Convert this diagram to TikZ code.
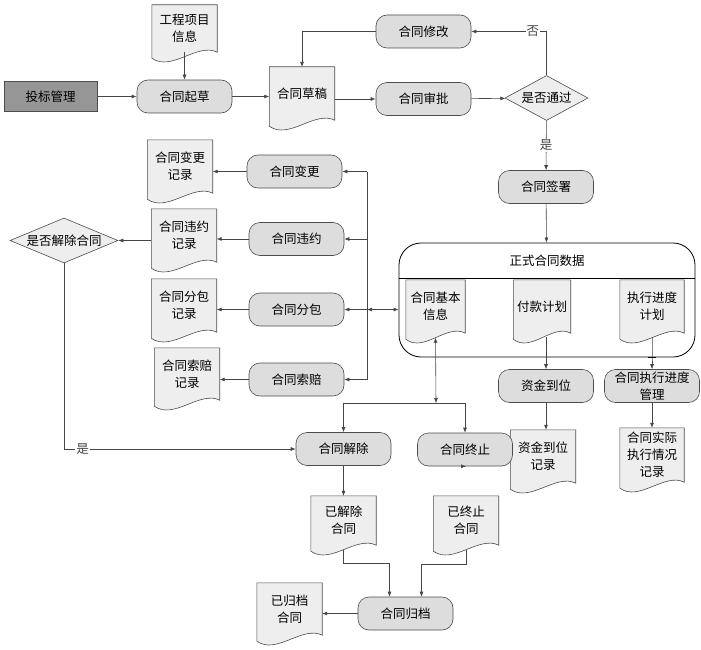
\documentclass[tikz,border=0pt]{standalone}
\usepackage{fontspec}
\setmainfont{Noto Sans CJK SC}
\usetikzlibrary{shapes.geometric,arrows.meta,positioning,backgrounds,calc}
\definecolor{procgray}{RGB}{221,221,221}
\definecolor{docgray} {RGB}{238,238,238}
\definecolor{bidgray} {RGB}{150,150,150}
\definecolor{linegray}{RGB}{70,70,70}

\begin{document}
\begin{tikzpicture}[
      x=1pt, y=-1pt,
      font=\fontsize{12.5}{17}\selectfont, >={Latex[length=5pt,width=4pt]},
      every node/.style={align=center},
      proc/.style={rectangle, rounded corners=11pt, draw=black!70, fill=procgray,
        minimum width=95pt, minimum height=33pt, line width=0.6pt},
      docu/.style={rectangle, inner sep=0pt, minimum width=65pt, minimum height=#1},
      docu/.default=53pt,
      decide/.style={diamond, draw=black!70, fill=docgray, inner sep=0pt, aspect=2.4,
        line width=0.6pt},
      arr/.style={->, color=linegray, line width=0.6pt},
      lbl/.style={fill=white, inner sep=1pt},
    ]
    \useasboundingbox (0,0) rectangle (701,650);

    % ── DRAFTING & APPROVAL ─────────────────────────────────────
    \node[draw=black!70, fill=bidgray, minimum width=93pt, minimum height=30pt] (bid) at (50.5, 96.5) {投标管理};
    \node[docu=47pt] (info) at (184.5, 28.5) {工程项目\\信息};
    \node[proc] (drafting) at (184.5, 96.5) {合同起草};
    \node[docu] (draftdoc) at (302, 93.5) {合同草稿};
    \node[proc] (revise) at (423.5, 31.5) {合同修改};
    \node[proc] (approve) at (423.5, 99) {合同审批};
    \node[decide, minimum width=83pt, minimum height=45pt] (pass) at (546.5, 98) {是否通过};
    \node[proc] (sign) at (546, 187) {合同签署};

    \draw[arr, thick] (bid) -- (drafting);
    \draw[arr] (info) -- (drafting);
    \draw[arr, thick] (drafting.east) -- (drafting.east -| draftdoc.west);
    \draw[arr, thick] (draftdoc.east |- approve) -- (approve);
    \draw[arr] (approve) -- (pass);
    \draw[arr] (pass.north) |- node[pos=0.59, lbl]{否} (revise.east);
    \draw[arr] (revise.west) -| (draftdoc.north);
    \draw[arr] (pass) -- node[lbl]{是} (sign);

    % ── CONTRACT DATA ───────────────────────────────────────────
    \node[draw=black, rounded corners=22pt, minimum width=296pt, minimum height=114pt,
      line width=0.8pt] (data) at (547, 300) {};
    \node[minimum width=296pt, minimum height=35pt, anchor=north] (title) at (data.north) {正式合同数据};
    \draw[line width=0.6pt] (data.west |- title.south) -- (data.east |- title.south);
    \node[docu, minimum width=59pt] (basic) at (435.5, 306.5) {合同基本\\信息};
    \node[docu, minimum width=57pt] (pay) at (542, 306.5) {付款计划};
    \node[docu, minimum width=64pt] (sched) at (652, 306.5) {执行进度\\计划};

    \draw[arr] (sign) -- (data);

    % ── CHANGES, BREACH, SUBCONTRACT, CLAIMS ────────────────────
    \node[proc] (change) at (294.5, 171.5) {合同变更};
    \node[proc] (breach) at (296.5, 239) {合同违约};
    \node[proc] (subc) at (296.5, 309.5) {合同分包};
    \node[proc] (claim) at (296.5, 379.5) {合同索赔};
    \node[docu] (changerec) at (180, 166.5) {合同变更\\记录};
    \node[docu] (breachrec) at (184, 235.5) {合同违约\\记录};
    \node[docu] (subcrec) at (184, 305.5) {合同分包\\记录};
    \node[docu=52pt] (claimrec) at (187, 374) {合同索赔\\记录};
    \node[decide, minimum width=108pt, minimum height=45pt] (askend) at (64, 240.5) {是否解除合同};

    \coordinate (bus) at (367, 309.5);
    \draw[color=linegray, line width=0.6pt] (change.east -| bus) -- (claim.east -| bus);
    \foreach \proc in {change,breach,claim}
      \draw[arr] (\proc.east -| bus) -- (\proc.east);
    \draw[arr] (bus) -- (subc.east);
    \draw[arr, <->] (bus) -- (bus -| data.west);
    \foreach \proc/\rec in {change/changerec, breach/breachrec, subc/subcrec, claim/claimrec}
      \draw[arr] (\proc.west) -- (\proc.west -| \rec.east);
    \draw[arr] (askend.east -| breachrec.west) -- (askend.east);

    % ── RESCISSION, TERMINATION, ARCHIVE ────────────────────────
    \node[proc] (rescind) at (343.5, 449) {合同解除};
    \node[proc] (terminate) at (465, 449.5) {合同终止};
    \node[docu=49pt] (rescinded) at (343.5, 520.5) {已解除\\合同};
    \node[docu=49pt] (terminated) at (466, 520.5) {已终止\\合同};
    \node[proc] (archive) at (405.5, 613.5) {合同归档};
    \node[docu=52pt] (archived) at (289.5, 609) {已归档\\合同};

    \coordinate (fork) at (436, 403);
    \draw[arr, <->] ($(basic.south)+(0,4.5)$) -- (fork);
    \draw[color=linegray, line width=0.6pt] (rescind.north |- fork) -- (terminate.north |- fork);
    \draw[arr] (rescind.north |- fork) -- (rescind.north);
    \draw[arr] (terminate.north |- fork) -- (terminate.north);
    \draw[arr] (askend.south) |- node[pos=0.54, lbl]{是} (rescind.west);
    \draw[arr] (rescind) -- (rescinded);
    \draw[arr] (terminate.south) -- (terminate.south -| terminated.north);
    \draw[arr] ($(rescinded.south)+(0,5)$) -- ++(0,13) -| ([xshift=-16pt]archive.north);
    \draw[arr] ($(terminated.south)+(0,5)$) -- ++(0,14) -| ([xshift=16pt]archive.north);
    \draw[arr] (archive.west) -- (archive.west -| archived.east);

    % ── FUNDS & PROGRESS ────────────────────────────────────────
    \node[proc] (fund) at (546, 386) {资金到位};
    \node[proc, inner ysep=1pt] (progress) at (652, 386) {合同执行进度\\管理};
    \node[docu] (fundrec) at (543, 456.5) {资金到位\\记录};
    \node[docu=54pt, minimum width=64pt] (actualrec) at (652, 455) {合同实际\\执行情况\\记录};

    \draw[arr] ($(fund.north |- pay.south)+(0,4)$) -- (fund.north);
    \draw[arr] (fund.south) -- (fund.south |- fundrec.north);
    \draw[arr] ($(sched.south)+(0,4)$) -- (sched.south |- data.south)
      node[fill=black, inner sep=0pt, minimum width=8pt, minimum height=1.4pt] (tick) {}
      -- (progress.north);
    \draw[arr] (progress.south) -- (progress.south |- actualrec.north);

    % ── Document outlines ───────────────────────────────────────
    \begin{scope}[on background layer]
    \foreach \docname in {info,draftdoc,basic,pay,sched,changerec,breachrec,subcrec,claimrec,
                          rescinded,terminated,archived,fundrec,actualrec}
      \filldraw[fill=docgray, draw=black!70, line width=0.6pt]
        let \p1=(\docname.south west), \p2=(\docname.north east), \n1={\x2-\x1} in
        (\x1,\y2) -- (\x2,\y2) -- (\x2,\y1)
        .. controls (\x2-0.3*\n1, \y1+10pt) and (\x1+0.3*\n1, \y1-20pt) .. (\x1,\y1-6pt) -- cycle;
    \end{scope}

\end{tikzpicture}
\end{document}
